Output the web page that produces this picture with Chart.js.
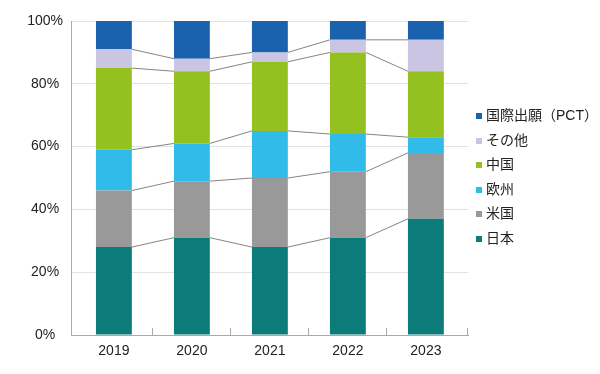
<!DOCTYPE html>
<html lang="ja">
<head>
<meta charset="utf-8">
<title>出願先の構成比</title>
<script src="https://cdn.jsdelivr.net/npm/chart.js@4"></script>
<style>
  html, body { margin: 0; padding: 0; background: #fff; }
  #wrap { width: 600px; height: 374px; position: relative; }
  #legend {
    position: absolute; left: 476px; top: 105px;
    font-family: "Liberation Sans", Arial, "Noto Sans CJK JP", sans-serif;
    font-size: 14px; color: #222;
  }
  #legend div { height: 24.6px; line-height: 20px; white-space: nowrap; }
  #legend span.box {
    display: inline-block; width: 6px; height: 6px;
    margin-right: 4px; vertical-align: 1px;
  }
</style>
</head>
<body>
<div id="wrap">
  <canvas id="chart" width="600" height="374"></canvas>
  <div id="legend"></div>
</div>
<script>
// Chart data
const years = ["2019", "2020", "2021", "2022", "2023"];
const japan = [28, 31, 28, 31, 37];
const usa = [18, 18, 22, 21, 21];
const europe = [13, 12, 15, 12, 5];
const china = [26, 23, 22, 26, 21];
const others = [6, 4, 3, 4, 10];
const pct = [9, 12, 10, 6, 6];
const yTicks = [0, 20, 40, 60, 80, 100];

const FONT = '"Liberation Sans", Arial, "Noto Sans CJK JP", sans-serif';
const firstYear = Number(years[0]);
const lastYear = Number(years[years.length - 1]);

// Grey connector lines between the tops of each segment
const connectorPlugin = {
  id: "connectors",
  afterDatasetsDraw(chart) {
    const ctx = chart.ctx;
    ctx.save();
    ctx.strokeStyle = "#858585";
    ctx.lineWidth = 1;
    chart.data.datasets.forEach((ds, d) => {
      if (d === chart.data.datasets.length - 1) return; // no line on 100%
      const bars = chart.getDatasetMeta(d).data;
      for (let i = 0; i < bars.length - 1; i++) {
        const a = bars[i];
        const b = bars[i + 1];
        ctx.beginPath();
        ctx.moveTo(a.x + a.width / 2, a.y);
        ctx.lineTo(b.x - b.width / 2, b.y);
        ctx.stroke();
      }
    });
    ctx.restore();
  }
};

// Small upward ticks on the x axis between years and at the right end
const xTickPlugin = {
  id: "xTicks",
  afterDraw(chart) {
    const x = chart.scales.x;
    const ctx = chart.ctx;
    const marks = years.slice(1).map(y => x.getPixelForValue(Number(y) - 0.5));
    marks.push(x.right);
    ctx.save();
    ctx.strokeStyle = "#aaaaaa";
    ctx.lineWidth = 1;
    marks.forEach(m => {
      const px = Math.round(m) - 0.5;
      ctx.beginPath();
      ctx.moveTo(px, x.top);
      ctx.lineTo(px, x.top - 7);
      ctx.stroke();
    });
    ctx.restore();
  }
};

const chart = new Chart(document.getElementById("chart"), {
  type: "bar",
  data: {
    labels: years,
    datasets: [
      { label: "日本", data: japan, backgroundColor: "#0c7c7a" },
      { label: "米国", data: usa, backgroundColor: "#999999" },
      { label: "欧州", data: europe, backgroundColor: "#30bbe9" },
      { label: "中国", data: china, backgroundColor: "#94c11f" },
      { label: "その他", data: others, backgroundColor: "#c9c5e3" },
      { label: "国際出願（PCT）", data: pct, backgroundColor: "#1a61ae" }
    ]
  },
  options: {
    responsive: false,
    animation: false,
    barPercentage: 0.46,
    categoryPercentage: 1,
    layout: { padding: { top: 21, right: 132 } },
    plugins: {
      tooltip: { enabled: false },
      legend: { display: false }
    },
    scales: {
      x: {
        type: "linear",
        offset: false,
        stacked: true,
        min: firstYear - 0.55,
        max: lastYear + 0.54,
        grid: { display: false, drawTicks: false, offset: false },
        border: { color: "#aaaaaa" },
        ticks: {
          stepSize: 1,
          includeBounds: false,
          color: "#222",
          padding: 8,
          font: { family: FONT, size: 14 },
          callback: v => years.find(y => Number(y) === v) || ""
        },
        afterFit(scale) { scale.height = 39; }
      },
      y: {
        stacked: true,
        min: 0,
        max: 100,
        afterBuildTicks(scale) { scale.ticks = yTicks.map(v => ({ value: v })); },
        grid: { color: "#e2e2e2", drawTicks: false },
        border: { color: "#aaaaaa" },
        ticks: {
          color: "#222",
          padding: 8,
          crossAlign: "center",
          font: { family: FONT, size: 14 },
          callback: v => v + "%"
        },
        afterFit(scale) { scale.width = 71; }
      }
    }
  },
  plugins: [connectorPlugin, xTickPlugin]
});

// HTML legend, top item first
const legendEl = document.getElementById("legend");
chart.data.datasets.slice().reverse().forEach(ds => {
  const row = document.createElement("div");
  row.innerHTML = `<span class="box" style="background:${ds.backgroundColor}"></span>${ds.label}`;
  legendEl.appendChild(row);
});
</script>
</body>
</html>
